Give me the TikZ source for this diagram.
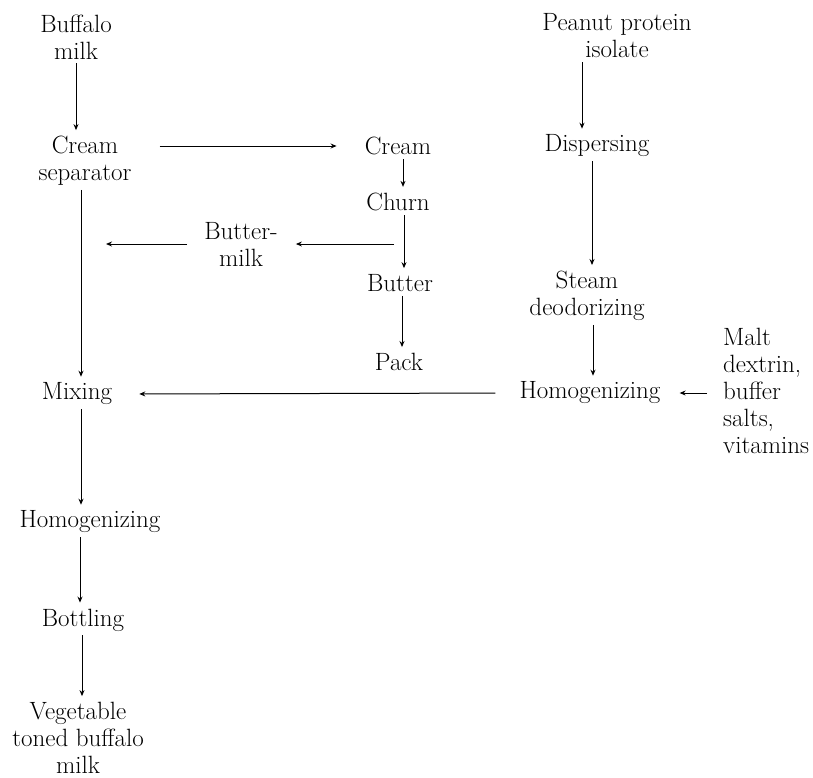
\documentclass[tikz,border=0pt]{standalone}
\usepackage{tikz}
\usetikzlibrary{positioning,arrows.meta}

\begin{document}
\begin{tikzpicture}[x=1pt, y=-1pt,
  every node/.style={align=center, inner sep=4pt, font=\fontsize{25}{27}\selectfont},
  flow/.style={-{Stealth[length=6pt,width=5pt]}, line width=1pt, shorten >=2pt}]
  \useasboundingbox (0,0) rectangle (813,777);
  % milk line
  \node (buffalo) at (76,37) {Buffalo\\milk};
  \node (separator) at (85,161) {Cream\\separator};
  \node (mixing) at (77,394) {Mixing};
  \node (homogL) at (90,522) {Homogenizing};
  \node (bottling) at (83,620) {Bottling};
  \node (toned) at (78,738) {Vegetable\\toned buffalo\\milk};
  % butter side
  \node (cream) at (398,146) {Cream};
  \node (churn) at (398,202) {Churn};
  \node (buttermilk) at (241,244) {Butter-\\milk};
  \node (butter) at (400,283) {Butter};
  \node (pack) at (399,362) {Pack};
  % peanut side
  \node (peanut) at (617,36) {Peanut protein\\isolate};
  \node (dispersing) at (597,146) {Dispersing};
  \node (steam) at (587,296) {Steam\\deodorizing};
  \node (homogR) at (590,393) {Homogenizing};
  \node[align=left, anchor=west] (additives) at (719,391) {Malt\\dextrin,\\buffer\\salts,\\vitamins};
  \coordinate (tap) at ([xshift=-4pt]churn.south |- buttermilk);

  \draw[flow] (buffalo.south) -- (buffalo.south |- separator.north);
  \draw[flow] ([xshift=-4pt]separator.south) -- ([xshift=-4pt]separator.south |- mixing.north);
  \draw[flow, shorten <=24pt, shorten >=24pt] (separator.east |- cream) -- (cream.west);
  \draw[flow] ([xshift=5pt]cream.south) -- ([xshift=5pt]churn.north);
  \draw[flow] ([xshift=6pt]churn.south) -- ([xshift=6pt]churn.south |- butter.north);
  \draw[flow] ([xshift=2pt]butter.south) -- ([xshift=2pt]butter.south |- pack.north);
  \draw[flow, shorten >=14pt] (tap) -- (buttermilk.east);
  \draw[flow, shorten <=13pt, shorten >=29pt] (buttermilk.west) -- (buttermilk.west -| mixing);
  \draw[flow] ([xshift=-35pt]peanut.south) -- ([xshift=-35pt]peanut.south |- dispersing.north);
  \draw[flow] ([xshift=-5pt]dispersing.south) -- ([xshift=-5pt]dispersing.south |- steam.north);
  \draw[flow] ([xshift=6pt]steam.south) -- ([xshift=6pt]steam.south |- homogR.north);
  \draw[flow, shorten <=20pt, shorten >=23pt] (homogR.west) -- (mixing.east);
  \draw[flow, shorten <=12pt, shorten >=15pt] (additives.west |- homogR) -- (homogR.east);
  \draw[flow] ([xshift=4pt]mixing.south) -- ([xshift=4pt]mixing.south |- homogL.north);
  \draw[flow] ([xshift=-3pt]bottling.north |- homogL.south) -- ([xshift=-3pt]bottling.north);
  \draw[flow] ([xshift=-1pt]bottling.south) -- ([xshift=-1pt]bottling.south |- toned.north);
\end{tikzpicture}
\end{document}
